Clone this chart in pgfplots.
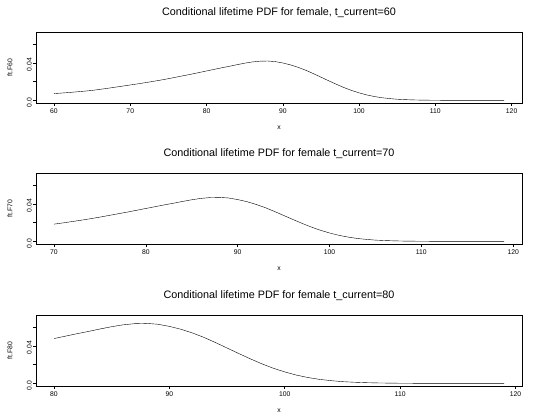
\documentclass[border=0pt]{standalone}
\usepackage{fontspec}
\setmainfont{Liberation Sans}
\usepackage{pgfplots}
\pgfplotsset{compat=1.18}

\pgfplotsset{
  rpanel/.style={
    anchor=south west,
    width=486pt, height=71pt, scale only axis,
    ymin=-0.0028, ymax=0.0728,
    ytick={0,0.02,0.04,0.06},
    yticklabels={0.0,,0.04,},
    axis x line*=box, axis y line*=box,
    xtick pos=lower, ytick pos=left,
    tick align=outside,
    major tick length=3pt,
    tick style={black, line width=0.6pt},
    axis line style={black, line width=0.9pt},
    /pgf/number format/assume math mode=true,
    xticklabel style={font=\fontsize{6.8}{8}\selectfont, inner sep=1pt, yshift=-2pt},
    yticklabel style={font=\fontsize{6.8}{8}\selectfont, rotate=90, anchor=south, inner sep=1pt, xshift=-2pt},
    scaled y ticks=false,
    every axis x label/.style={font=\fontsize{6.8}{8}\selectfont, at={(axis description cs:0.5,0)}, anchor=center, yshift=-25pt},
    every axis y label/.style={font=\fontsize{6.8}{8}\selectfont, at={(axis description cs:-0.0535,0.5)}, anchor=center, rotate=90},
    every axis title/.style={font=\fontsize{10.8}{13}\selectfont, at={(axis description cs:0.5,1)}, anchor=center, yshift=19pt},
    cycle list={{black, line width=0.9pt, mark=none}},
  }
}

\pgfplotstableread{
x y
60 0.0072
61 0.0078
62 0.0084
63 0.0091
64 0.0098
65 0.0106
66 0.0117
67 0.0128
68 0.0140
69 0.0152
70 0.0164
71 0.0176
72 0.0189
73 0.0202
74 0.0216
75 0.0231
76 0.0247
77 0.0263
78 0.0279
79 0.0296
80 0.0313
81 0.0330
82 0.0347
83 0.0363
84 0.0380
85 0.0396
86 0.0409
87 0.0417
88 0.0419
89 0.0413
90 0.0398
91 0.0378
92 0.0352
93 0.0321
94 0.0285
95 0.0247
96 0.0209
97 0.0172
98 0.0137
99 0.0106
100 0.0080
101 0.0058
102 0.0041
103 0.0028
104 0.0019
105 0.0012
106 0.0008
107 0.0005
108 0.0003
109 0.0002
110 0.0001
111 0.00006
112 0.00004
113 0.00002
114 0.00001
115 0.00001
116 0.000005
117 0.000003
118 0.000002
119 0.000001
}\tabA

\pgfplotstableread{
x y
70 0.01834
71 0.01969
72 0.02114
73 0.02260
74 0.02416
75 0.02584
76 0.02763
77 0.02942
78 0.03121
79 0.03311
80 0.03501
81 0.03691
82 0.03882
83 0.04061
84 0.04251
85 0.04430
86 0.04575
87 0.04665
88 0.04687
89 0.04620
90 0.04452
91 0.04228
92 0.03938
93 0.03591
94 0.03188
95 0.02763
96 0.02338
97 0.01924
98 0.01532
99 0.01186
100 0.00895
101 0.00649
102 0.00459
103 0.00313
104 0.00213
105 0.00134
106 0.00089
107 0.00056
108 0.00034
109 0.00022
110 0.00011
111 0.00007
112 0.00004
113 0.00002
114 0.00001
115 0.00001
116 0.000006
117 0.000003
118 0.000002
119 0.000001
}\tabB

\pgfplotstableread{
x y
80 0.04771
81 0.05030
82 0.05290
83 0.05534
84 0.05793
85 0.06037
86 0.06235
87 0.06357
88 0.06387
89 0.06296
90 0.06067
91 0.05762
92 0.05366
93 0.04893
94 0.04345
95 0.03765
96 0.03186
97 0.02622
98 0.02088
99 0.01616
100 0.01220
101 0.00884
102 0.00625
103 0.00427
104 0.00290
105 0.00183
106 0.00122
107 0.00076
108 0.00046
109 0.00030
110 0.00015
111 0.00008
112 0.00005
113 0.00003
114 0.00002
115 0.00001
116 0.000008
117 0.000005
118 0.000003
119 0.000002
}\tabC

\begin{document}
\begin{tikzpicture}[x=1pt,y=1pt]
\path[use as bounding box] (0,0) rectangle (546,418);

\begin{axis}[rpanel, at={(36pt,315pt)},
  xmin=57.64, xmax=121.36, xtick={60,70,...,120},
  title={Conditional lifetime PDF for female, t\_current=60},
  xlabel={x}, ylabel={ft.F60}]
\addplot table[x=x,y=y] {\tabA};
\end{axis}

\begin{axis}[rpanel, at={(36pt,174pt)},
  xmin=68.04, xmax=120.96, xtick={70,80,...,120},
  title={Conditional lifetime PDF for female t\_current=70},
  xlabel={x}, ylabel={ft.F70}]
\addplot table[x=x,y=y] {\tabB};
\end{axis}

\begin{axis}[rpanel, at={(36pt,32pt)},
  xmin=78.44, xmax=120.56, xtick={80,90,...,120},
  title={Conditional lifetime PDF for female t\_current=80},
  xlabel={x}, ylabel={ft.F80}]
\addplot table[x=x,y=y] {\tabC};
\end{axis}
\end{tikzpicture}
\end{document}
